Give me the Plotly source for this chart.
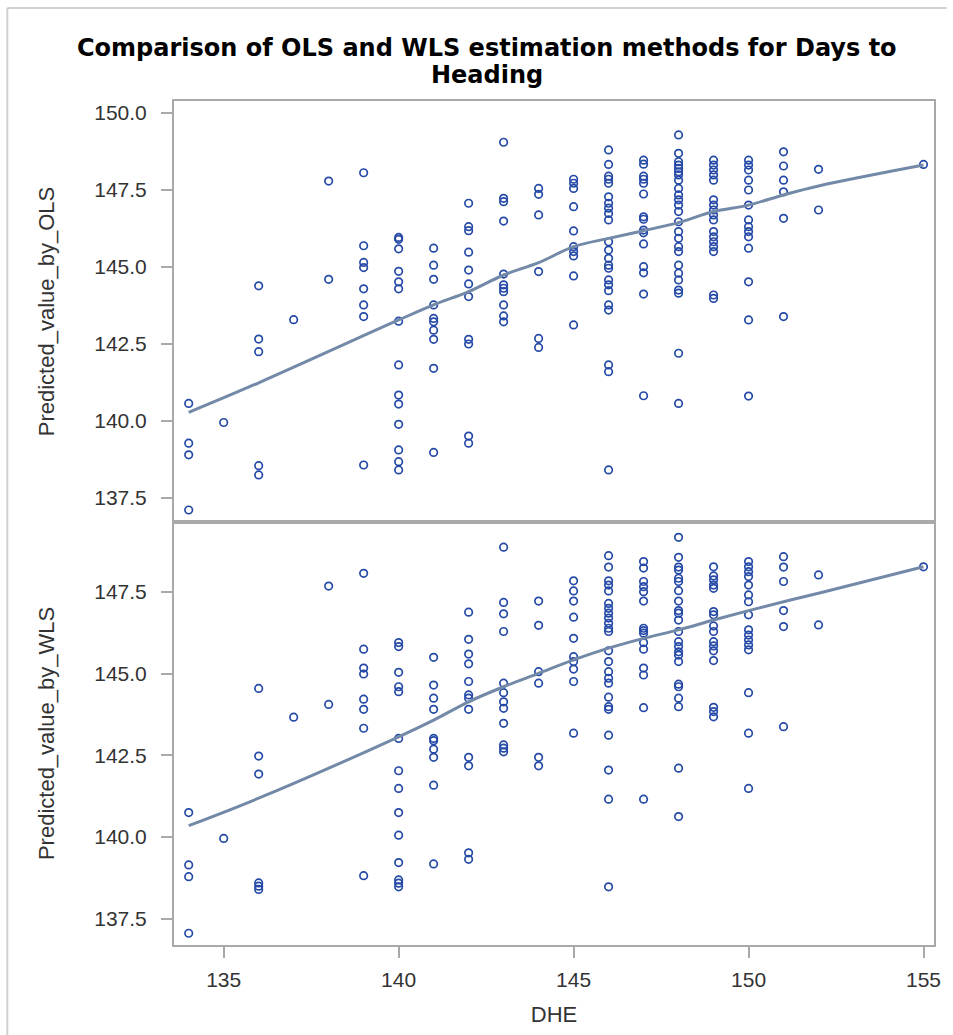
import plotly.graph_objects as go
from plotly.subplots import make_subplots

# ---------------- data ----------------
dhe_ols = (
    [134]*4 + [135] + [136]*5 + [137] + [138]*2 + [139]*8 + [140]*14 +
    [141]*10 + [142]*11 + [143]*11 + [144]*6 + [145]*10 + [146]*23 +
    [147]*15 + [148]*25 + [149]*17 + [150]*14 + [151]*6 + [152]*2 + [155]
)
pred_ols = [
    140.57, 139.28, 138.90, 137.11,
    139.95,
    144.39, 142.66, 142.25, 138.55, 138.25,
    143.29,
    147.79, 144.60,
    148.06, 145.69, 145.15, 144.98, 144.29, 143.77, 143.39, 138.57,
    145.96, 145.90, 145.59, 144.86, 144.52, 144.29, 143.24, 141.82, 140.84, 140.55, 139.89, 139.06, 138.68, 138.41,
    145.61, 145.06, 144.60, 143.77, 143.33, 143.22, 142.95, 142.65, 141.71, 138.98,
    147.07, 146.31, 146.18, 145.48, 144.90, 144.45, 144.04, 142.65, 142.50, 139.51, 139.28,
    149.05, 147.23, 147.12, 146.49, 144.77, 144.42, 144.31, 144.20, 143.77, 143.41, 143.22,
    147.55, 147.36, 146.69, 144.85, 142.68, 142.39,
    147.85, 147.72, 147.55, 146.96, 146.17, 145.66, 145.50, 145.36, 144.71, 143.12,
    148.80, 148.33, 147.95, 147.85, 147.72, 147.28, 147.07, 146.91, 146.74, 146.53, 145.82, 145.55,
    145.28, 145.06, 144.96, 144.58, 144.42, 144.23, 143.77, 143.60, 141.82, 141.60, 138.41,
    148.47, 148.34, 147.95, 147.85, 147.72, 147.37, 146.63, 146.55, 146.20, 146.11, 145.75, 145.01,
    144.81, 144.12, 140.82,
    149.29, 148.69, 148.42, 148.31, 148.20, 148.09, 147.99, 147.82, 147.55, 147.34, 147.18, 147.01,
    146.80, 146.47, 146.15, 145.93, 145.66, 145.50, 145.06, 144.80, 144.58, 144.25, 144.15, 142.20, 140.57,
    148.47, 148.31, 148.15, 147.99, 147.82, 147.18, 147.01, 146.85, 146.69, 146.53, 146.15, 145.98,
    145.82, 145.66, 145.50, 144.09, 143.98,
    148.47, 148.31, 148.15, 147.82, 147.50, 147.01, 146.53, 146.31, 146.15, 145.98, 145.61, 144.52, 143.28, 140.81,
    148.74, 148.28, 147.82, 147.44, 146.58, 143.39,
    148.17, 146.85,
    148.33,
]

dhe_wls = (
    [134]*4 + [135] + [136]*6 + [137] + [138]*2 + [139]*8 + [140]*14 +
    [141]*10 + [142]*12 + [143]*12 + [144]*6 + [145]*10 + [146]*24 +
    [147]*15 + [148]*23 + [149]*16 + [150]*16 + [151]*6 + [152]*2 + [155]
)
pred_wls = [
    140.75, 139.15, 138.79, 137.06,
    139.96,
    144.55, 142.48, 141.93, 138.60, 138.50, 138.40,
    143.67,
    147.68, 144.06,
    148.07, 145.75, 145.17, 144.99, 144.22, 143.91, 143.33, 138.82,
    145.95, 145.83, 145.04, 144.60, 144.45, 143.02, 142.03, 141.49, 140.75, 140.06, 139.22, 138.69, 138.59, 138.48,
    145.50, 144.65, 144.25, 143.91, 143.02, 142.95, 142.69, 142.44, 141.59, 139.18,
    146.88, 146.05, 145.60, 145.30, 144.76, 144.35, 144.25, 143.91, 142.44, 142.18, 139.52, 139.32,
    148.87, 147.18, 146.83, 146.29, 144.71, 144.42, 144.14, 143.94, 143.48, 142.82, 142.72, 142.61,
    147.22, 146.48, 145.06, 144.71, 142.44, 142.18,
    147.84, 147.53, 147.22, 146.73, 146.08, 145.52, 145.37, 145.14, 144.76, 143.18,
    148.61, 148.26, 147.84, 147.71, 147.53, 147.15, 147.00, 146.85, 146.70, 146.54, 146.39, 146.29,
    145.70, 145.37, 145.06, 144.86, 144.71, 144.28, 143.99, 143.91, 143.12, 142.05, 141.16, 138.48,
    148.43, 148.23, 147.82, 147.66, 147.51, 147.22, 146.39, 146.32, 146.24, 145.95, 145.75, 145.17,
    144.96, 143.96, 141.16,
    149.17, 148.56, 148.26, 148.17, 147.92, 147.82, 147.54, 147.22, 146.93, 146.85, 146.64, 146.29,
    145.98, 145.83, 145.67, 145.57, 145.37, 144.68, 144.60, 144.25, 143.99, 142.11, 140.63,
    148.27, 147.99, 147.87, 147.71, 147.61, 146.90, 146.80, 146.46, 146.29, 145.98, 145.85, 145.70,
    145.40, 143.97, 143.84, 143.68,
    148.43, 148.27, 148.12, 147.97, 147.71, 147.41, 147.20, 146.80, 146.34, 146.18, 146.03, 145.88,
    145.73, 144.42, 143.18, 141.49,
    148.58, 148.26, 147.82, 146.93, 146.44, 143.38,
    148.02, 146.49,
    148.27,
]

smooth_x = [134, 136, 140, 141, 142, 143, 144, 145, 146, 147, 148, 149, 150, 151, 152, 155]
smooth_ols = [140.28, 141.24, 143.28, 143.77, 144.20, 144.74, 145.14, 145.66, 145.93, 146.18,
              146.44, 146.80, 147.01, 147.34, 147.63, 148.31]
smooth_wls = [140.35, 141.19, 143.07, 143.58, 144.14, 144.60, 145.01, 145.42, 145.78, 146.08,
              146.34, 146.64, 146.93, 147.20, 147.46, 148.27]

x_ticks = [135, 140, 145, 150, 155]
y_ticks = [137.5, 140.0, 142.5, 145.0, 147.5, 150.0]
title_lines = ["Comparison of OLS and WLS estimation methods for Days to", "Heading"]

# ---------------- figure ----------------
W, H = 953, 1035
ML, MR, MT, MB = 174, 13, 101, 90
plot_h = H - MT - MB
px_w = W - ML - MR
split = 423 / plot_h

fig = make_subplots(rows=2, cols=1, shared_xaxes=True, vertical_spacing=0)

marker = dict(symbol="circle-open", size=7.5, color="#2449a6", line=dict(width=1.7, color="#2449a6"))
line_style = dict(color="#7389a8", width=3)

fig.add_trace(go.Scatter(x=dhe_ols, y=pred_ols, mode="markers", marker=marker, showlegend=False), row=1, col=1)
fig.add_trace(go.Scatter(x=smooth_x, y=smooth_ols, mode="lines", line=line_style, line_shape="spline",
                         showlegend=False), row=1, col=1)
fig.add_trace(go.Scatter(x=dhe_wls, y=pred_wls, mode="markers", marker=marker, showlegend=False), row=2, col=1)
fig.add_trace(go.Scatter(x=smooth_x, y=smooth_wls, mode="lines", line=line_style, line_shape="spline",
                         showlegend=False), row=2, col=1)

font_family = "Liberation Sans, Arial, sans-serif"
title_font = dict(family=font_family, size=22, color="#333333")
axis_common = dict(showgrid=False, zeroline=False, showline=True, mirror=True,
                   linecolor="#a9a9a9", linewidth=2, ticks="outside", ticklen=11,
                   tickcolor="#a9a9a9", tickwidth=2,
                   tickfont=dict(family=font_family, size=21, color="#333333"))

fig.update_xaxes(range=[133.58, 155.3], tickvals=x_ticks, ticklabelstandoff=4, **axis_common)
fig.update_xaxes(showticklabels=False, ticks="", row=1, col=1)
fig.update_xaxes(title=dict(text="DHE", font=title_font, standoff=16), row=2, col=1)

fig.update_yaxes(tickvals=y_ticks, tickformat=".1f", ticklabelstandoff=10, **axis_common)
fig.update_yaxes(range=[136.72, 150.39], domain=[split, 1],
                 title=dict(text="Predicted_value_by_OLS", font=title_font, standoff=34), row=1, col=1)
fig.update_yaxes(range=[136.7, 149.64], domain=[0, split],
                 title=dict(text="Predicted_value_by_WLS", font=title_font, standoff=34), row=2, col=1)


def py_to_paper(py):
    return (H - MB - py) / plot_h


def px_to_paper(px):
    return (px - ML) / px_w


# outer frame lines (left and top) of the graph area
x0 = px_to_paper(6)
fig.add_shape(type="line", xref="paper", yref="paper", x0=x0, x1=x0, y0=py_to_paper(H), y1=py_to_paper(8),
              line=dict(color="#d0d0d0", width=2))
fig.add_shape(type="line", xref="paper", yref="paper", x0=x0, x1=px_to_paper(W), y0=py_to_paper(8),
              y1=py_to_paper(8), line=dict(color="#d0d0d0", width=2))

# two-line title
for text, py in zip(title_lines, [48, 75]):
    fig.add_annotation(text=f"<b>{text}</b>", xref="paper", yref="paper", x=px_to_paper(489),
                       y=py_to_paper(py), xanchor="center", yanchor="middle", showarrow=False,
                       font=dict(family="DejaVu Sans, Verdana, sans-serif", size=24, color="black"))

fig.update_layout(
    width=W, height=H,
    margin=dict(l=ML, r=MR, t=MT, b=MB),
    paper_bgcolor="white", plot_bgcolor="white",
)

fig.write_html("out.html")
